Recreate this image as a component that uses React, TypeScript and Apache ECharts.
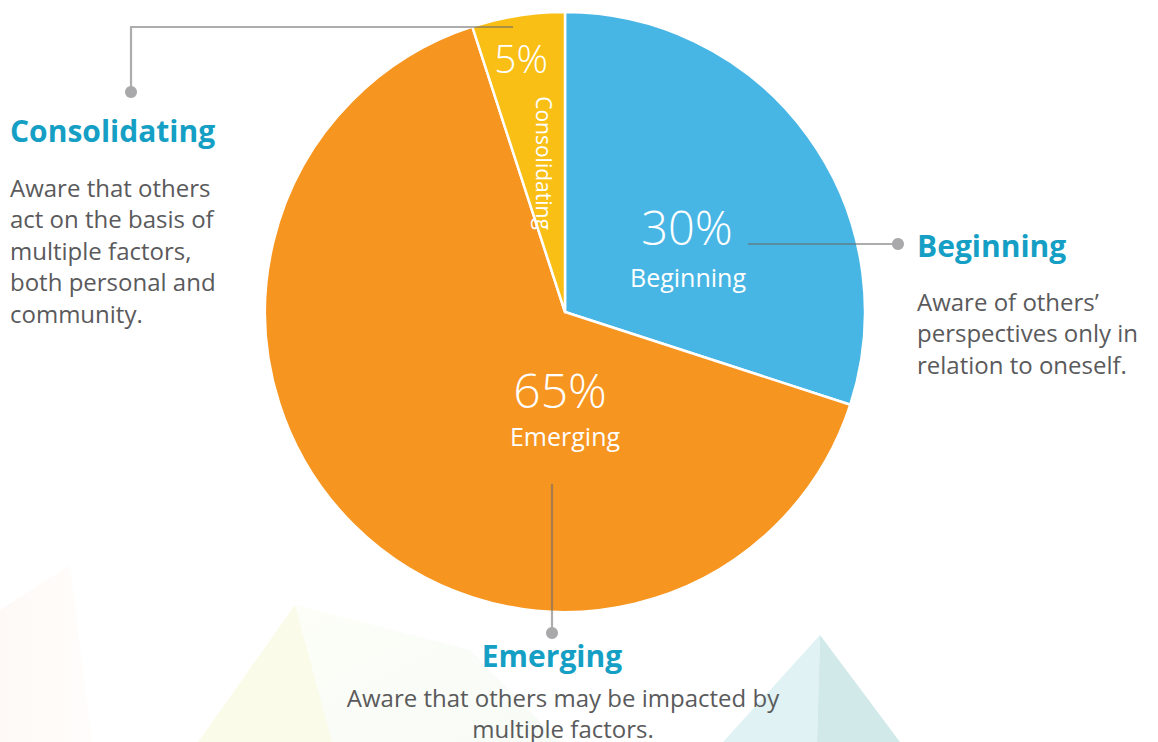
import React, { useEffect, useRef } from "react";
import * as echarts from "echarts";

const categories = ["Beginning", "Emerging", "Consolidating"];
const values = [30, 65, 5];
const colors = ["#47B6E4", "#F6951F", "#F9BF15"];
const descriptions = {
  Beginning: ["Aware of others’", "perspectives only in", "relation to oneself."],
  Emerging: ["Aware that others may be impacted by", "multiple factors."],
  Consolidating: [
    "Aware that others",
    "act on the basis of",
    "multiple factors,",
    "both personal and",
    "community.",
  ],
};

const TITLE_COLOR = "#159FC5";
const DESC_COLOR = "#5A5A5C";
const LEADER = "rgba(105,105,108,0.55)";
const DOT = "#A9A9AC";
const FONT = "'Open Sans', 'Noto Sans', sans-serif";

export default function App() {
  const ref = useRef<HTMLDivElement>(null);
  useEffect(() => {
    document.body.style.margin = "0";
    const chart = echarts.init(ref.current!, null, { renderer: "svg" });

    const descText = (lines: string[], x: number, y: number, align: string, lh: number) =>
      lines.map((t, i) => ({
        type: "text",
        x,
        y: y + i * lh,
        z: 10,
        style: {
          text: t,
          font: `400 24px ${FONT}`,
          fill: DESC_COLOR,
          textAlign: align,
          textVerticalAlign: "middle",
        },
      }));

    const title = (t: string, x: number, y: number, align: string) => ({
      type: "text",
      x,
      y,
      z: 10,
      style: {
        text: t,
        font: `700 30px ${FONT}`,
        fill: TITLE_COLOR,
        textAlign: align,
        textVerticalAlign: "middle",
      },
    });

    const inside = (t: string, x: number, y: number, size: number, rotation = 0, weight = 300) => ({
      type: "text",
      x,
      y,
      rotation,
      z: 10,
      style: {
        text: t,
        font: `${weight} ${size}px ${FONT}`,
        fill: "#ffffff",
        textAlign: "center",
        textVerticalAlign: "middle",
      },
    });

    const graphics: any[] = [
      // faint background shapes
      {
        type: "polygon",
        z: -10,
        shape: { points: [[0, 610], [70, 565], [92, 742], [0, 742]] },
        style: {
          fill: new echarts.graphic.LinearGradient(0, 0, 1, 0, [
            { offset: 0, color: "#FEF9F6" },
            { offset: 1, color: "#FFFDFB" },
          ]),
        },
      },
      {
        type: "polygon",
        z: -10,
        shape: { points: [[295, 605], [330, 742], [560, 742], [470, 650]] },
        style: {
          fill: new echarts.graphic.LinearGradient(0, 0, 1, 1, [
            { offset: 0, color: "#FDFEF8" },
            { offset: 1, color: "#F7FBF6" },
          ]),
        },
      },
      {
        type: "polygon",
        z: -10,
        shape: { points: [[295, 605], [198, 742], [332, 742]] },
        style: { fill: "#FBFBEA" },
      },
      {
        type: "polygon",
        z: -10,
        shape: { points: [[820, 635], [723, 742], [817, 742]] },
        style: { fill: "#E0F2F4" },
      },
      {
        type: "polygon",
        z: -10,
        shape: { points: [[820, 635], [817, 742], [900, 742]] },
        style: { fill: "#D1EAE9" },
      },
      // inside labels
      inside(`${values[0]}%`, 687, 227, 47),
      inside(categories[0], 688, 277, 25, 0, 400),
      inside(`${values[1]}%`, 560, 389, 48),
      inside(categories[1], 565, 436, 25, 0, 400),
      inside(`${values[2]}%`, 521, 57, 39),
      inside(categories[2], 544, 163, 21, -Math.PI / 2, 400),
      // leaders
      {
        type: "polyline",
        z: 9,
        shape: { points: [[513, 27], [131, 27], [131, 92]] },
        style: { stroke: LEADER, lineWidth: 2.2, fill: "none" },
      },
      { type: "circle", z: 9, shape: { cx: 131, cy: 92, r: 6 }, style: { fill: DOT } },
      {
        type: "line",
        z: 9,
        shape: { x1: 748, y1: 244, x2: 898, y2: 244 },
        style: { stroke: LEADER, lineWidth: 2.2 },
      },
      { type: "circle", z: 9, shape: { cx: 898, cy: 244, r: 6 }, style: { fill: DOT } },
      {
        type: "line",
        z: 9,
        shape: { x1: 552, y1: 484, x2: 552, y2: 632 },
        style: { stroke: LEADER, lineWidth: 2.2 },
      },
      { type: "circle", z: 9, shape: { cx: 552, cy: 633, r: 6 }, style: { fill: DOT } },
      // titles & descriptions
      title(categories[2], 10, 130, "left"),
      ...descText(descriptions.Consolidating, 10, 187, "left", 31.5),
      title(categories[0], 917, 245, "left"),
      ...descText(descriptions.Beginning, 917, 301, "left", 31.5),
      title(categories[1], 552, 655, "center"),
      ...descText(descriptions.Emerging, 563, 697, "center", 31),
    ];

    chart.setOption({
      animation: false,
      backgroundColor: "#ffffff",
      series: [
        {
          type: "pie",
          center: [565, 312],
          radius: 300,
          startAngle: 90,
          clockwise: true,
          silent: true,
          z: 2,
          label: { show: false },
          labelLine: { show: false },
          itemStyle: { borderColor: "#ffffff", borderWidth: 2.5 },
          data: categories.map((c, i) => ({
            name: c,
            value: values[i],
            itemStyle: { color: colors[i] },
          })),
        },
      ],
      graphic: graphics,
    });
    return () => chart.dispose();
  }, []);
  return <div ref={ref} style={{ width: 1158, height: 742 }} />;
}
